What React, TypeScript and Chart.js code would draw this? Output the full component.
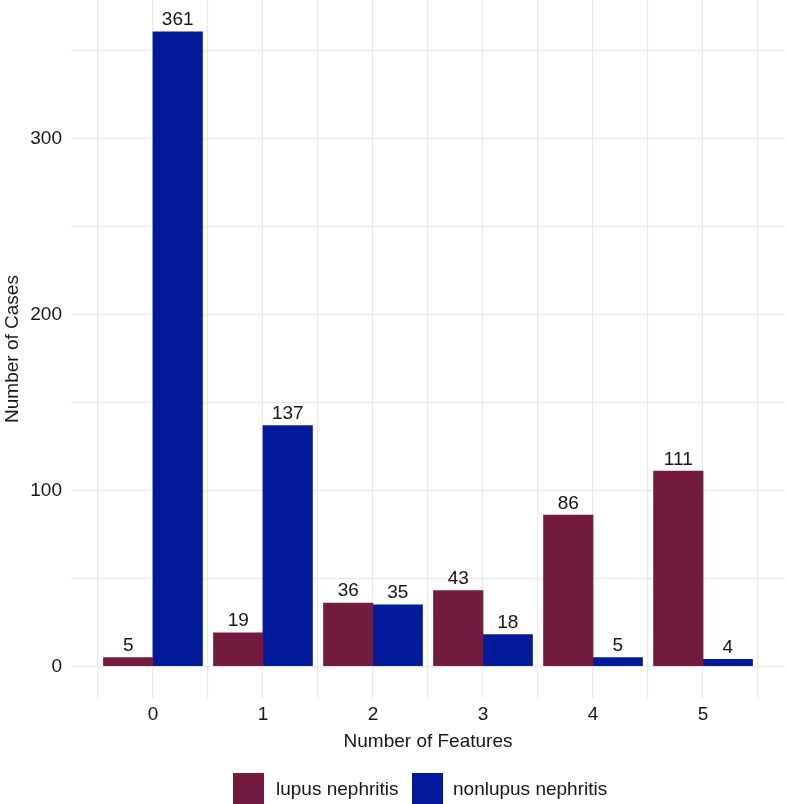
import React, { useEffect, useRef } from "react";
import { Chart, registerables } from "chart.js";

Chart.register(...registerables);

const categories = [0, 1, 2, 3, 4, 5];
const lupusValues = [5, 19, 36, 43, 86, 111];
const nonlupusValues = [361, 137, 35, 18, 5, 4];
const seriesNames = ["lupus nephritis", "nonlupus nephritis"];
const seriesColors = ["#731A3F", "#001A9A"];
const yTickValues = [0, 50, 100, 150, 200, 250, 300, 350];
const xTickValues = [-0.5, 0, 0.5, 1, 1.5, 2, 2.5, 3, 3.5, 4, 4.5, 5, 5.5];
const xTitle = "Number of Features";
const yTitle = "Number of Cases";

const FONT = "'Liberation Sans', Arial, Helvetica, sans-serif";
const TEXT = "#151515";
const GRID = "#E6E8EA";

export default function App() {
  const ref = useRef<HTMLCanvasElement | null>(null);

  useEffect(() => {
    document.body.style.margin = "0";
    const canvas = ref.current;
    if (!canvas) return;

    const overlay = {
      id: "overlay",
      afterDatasetsDraw(chart: any) {
        const ctx = chart.ctx;
        ctx.save();
        ctx.font = `19px ${FONT}`;
        ctx.fillStyle = TEXT;
        ctx.textAlign = "center";
        ctx.textBaseline = "alphabetic";
        chart.data.datasets.forEach((ds: any, i: number) => {
          const meta = chart.getDatasetMeta(i);
          meta.data.forEach((el: any, j: number) => {
            const v = ds.data[j].y;
            ctx.fillText(String(v), el.x, el.y - 6.5);
          });
        });
        ctx.restore();
      },
      afterDraw(chart: any) {
        const ctx = chart.ctx;
        const ca = chart.chartArea;
        ctx.save();
        ctx.font = `19px ${FONT}`;
        ctx.fillStyle = TEXT;
        ctx.textBaseline = "alphabetic";
        ctx.textAlign = "center";
        ctx.fillText(xTitle, (ca.left + ca.right) / 2, 747);
        ctx.save();
        ctx.translate(17.5, (ca.top + ca.bottom) / 2);
        ctx.rotate(-Math.PI / 2);
        ctx.fillText(yTitle, 0, 0);
        ctx.restore();
        const boxX = [233, 412];
        const textX = [276, 453];
        ctx.textAlign = "left";
        for (let i = 0; i < 2; i++) {
          ctx.fillStyle = seriesColors[i];
          ctx.fillRect(boxX[i], 773, 31, 31);
          ctx.fillStyle = TEXT;
          ctx.fillText(seriesNames[i], textX[i], 795);
        }
        ctx.restore();
      },
    };

    const chart = new Chart(canvas, {
      type: "bar",
      data: {
        datasets: [
          {
            label: seriesNames[0],
            data: categories.map((c, i) => ({ x: c, y: lupusValues[i] })),
            backgroundColor: seriesColors[0],
            barThickness: 49.5,
          },
          {
            label: seriesNames[1],
            data: categories.map((c, i) => ({ x: c, y: nonlupusValues[i] })),
            backgroundColor: seriesColors[1],
            barThickness: 49.5,
          },
        ],
      },
      options: {
        animation: false,
        responsive: false,
        maintainAspectRatio: false,
        layout: { autoPadding: false, padding: { left: 0, right: 2, top: 0, bottom: 0 } },
        plugins: {
          legend: { display: false },
          tooltip: { enabled: false },
        },
        scales: {
          x: {
            type: "linear",
            offset: false,
            min: -0.745,
            max: 5.745,
            afterBuildTicks: (s: any) => {
              s.ticks = xTickValues.map((v) => ({ value: v }));
            },
            afterFit: (s: any) => {
              s.height = 106;
              s.paddingLeft = 0;
              s.paddingRight = 0;
            },
            ticks: {
              autoSkip: false,
              maxRotation: 0,
              padding: 5,
              color: TEXT,
              font: { family: FONT, size: 19 },
              callback: (v: any) => (Number.isInteger(v) ? String(v) : ""),
            },
            grid: { offset: false, color: GRID, lineWidth: 1.2, drawTicks: false },
            border: { display: false },
          },
          y: {
            type: "linear",
            offset: false,
            min: -18.05,
            max: 379.05,
            afterBuildTicks: (s: any) => {
              s.ticks = yTickValues.map((v) => ({ value: v }));
            },
            afterFit: (s: any) => {
              s.width = 71;
              s.paddingTop = 0;
              s.paddingBottom = 0;
            },
            ticks: {
              autoSkip: false,
              padding: 9,
              color: TEXT,
              font: { family: FONT, size: 19 },
              callback: (v: any) => (v % 100 === 0 ? String(v) : ""),
            },
            grid: { offset: false, color: GRID, lineWidth: 1.2, drawTicks: false },
            border: { display: false },
          },
        },
      },
      plugins: [overlay],
    } as any);

    return () => chart.destroy();
  }, []);

  return (
    <div style={{ width: 787, height: 804 }}>
      <canvas ref={ref} width={787} height={804} style={{ display: "block" }} />
    </div>
  );
}
